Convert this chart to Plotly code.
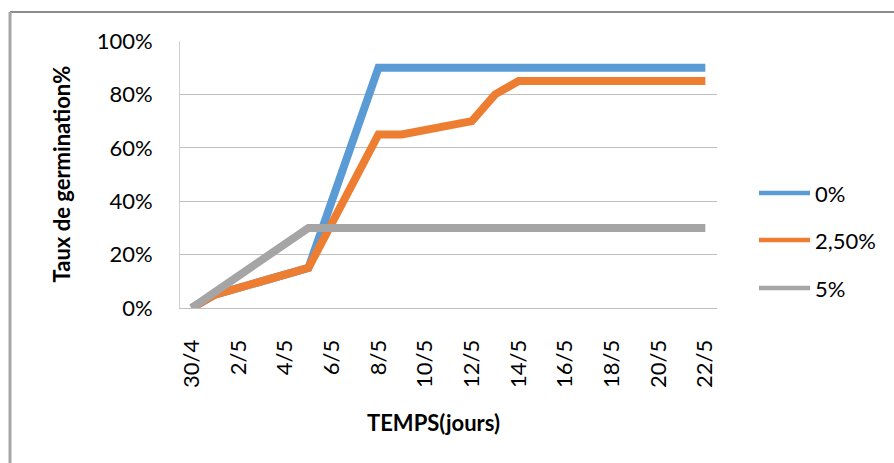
import plotly.graph_objects as go

# ---- data ----
series_names = ["0%", "2,50%", "5%"]
series_colors = ["#5B9BD5", "#ED7D31", "#A5A5A5"]

dates_0 = ["30/4", "1/5", "5/5", "8/5", "22/5"]
vals_0 = [0, 5, 15, 90, 90]

dates_25 = ["30/4", "1/5", "5/5", "8/5", "9/5", "12/5", "13/5", "14/5", "22/5"]
vals_25 = [0, 5, 15, 65, 65, 70, 80, 85, 85]

dates_5 = ["30/4", "5/5", "22/5"]
vals_5 = [0, 30, 30]

tick_labels = ["30/4", "2/5", "4/5", "6/5", "8/5", "10/5", "12/5",
               "14/5", "16/5", "18/5", "20/5", "22/5"]
y_ticks = [0, 20, 40, 60, 80, 100]


def day_offset(lbl):
    d, m = (int(v) for v in lbl.split("/"))
    return d - 30 if m == 4 else d


FONT = "Lato, Open Sans, sans-serif"
W, H = 894, 463
L, R, T, B = 180, 177, 41, 155
PW, PH = W - L - R, H - T - B


def px(x):
    return (x - L) / PW


def py(y):
    return (H - B - y) / PH


fig = go.Figure()
for name, color, ds, vs in [
    (series_names[0], series_colors[0], dates_0, vals_0),
    (series_names[1], series_colors[1], dates_25, vals_25),
    (series_names[2], series_colors[2], dates_5, vals_5),
]:
    fig.add_trace(go.Scatter(
        x=[day_offset(d) for d in ds], y=vs, mode="lines", name=name,
        line=dict(color=color, width=8), showlegend=False,
        hoverinfo="skip",
    ))

fig.update_layout(
    width=W, height=H,
    margin=dict(l=L, r=R, t=T, b=B, pad=0),
    paper_bgcolor="white", plot_bgcolor="white",
    font=dict(family=FONT, size=22, color="black"),
    xaxis=dict(
        range=[-0.5, 22.5],
        tickvals=[day_offset(t) for t in tick_labels],
        ticktext=tick_labels,
        tickangle=-90,
        showgrid=False, zeroline=False,
        showline=True, linecolor="#BFBFBF", linewidth=1,
        ticks="", ticklabelstandoff=22,
        tickfont=dict(size=22),
    ),
    yaxis=dict(
        range=[0, 100],
        tickvals=y_ticks,
        ticktext=[f"{v}%" for v in y_ticks],
        showgrid=True, gridcolor="#BFBFBF", gridwidth=1,
        zeroline=False,
        showline=True, linecolor="#D0D0D0", linewidth=1,
        ticks="", ticklabelstandoff=22,
        tickfont=dict(size=22),
    ),
)

# axis titles
fig.add_annotation(text="<b>TEMPS(jours)</b>", xref="paper", yref="paper",
                   x=px(433), y=py(422), xanchor="center", yanchor="middle",
                   showarrow=False, font=dict(size=22, family=FONT))
fig.add_annotation(text="<b>Taux de germination%</b>", xref="paper", yref="paper",
                   x=px(61), y=0.5, xanchor="center", yanchor="middle",
                   textangle=-90, showarrow=False, font=dict(size=22, family=FONT))

# legend (manual, Excel style)
leg_y = [193, 240, 288]
for name, color, yy in zip(series_names, series_colors, leg_y):
    fig.add_shape(type="line", xref="paper", yref="paper",
                  x0=px(759), x1=px(810), y0=py(yy), y1=py(yy),
                  line=dict(color=color, width=4.5))
    fig.add_annotation(text=name, xref="paper", yref="paper",
                       x=px(813), y=py(yy), xanchor="left", yanchor="middle",
                       showarrow=False, font=dict(size=22, family=FONT))

# chart-area border (top and left visible)
fig.add_shape(type="line", xref="paper", yref="paper",
              x0=px(10), x1=px(W + 5), y0=py(12), y1=py(12),
              line=dict(color="#8C8C8C", width=2))
fig.add_shape(type="line", xref="paper", yref="paper",
              x0=px(10), x1=px(10), y0=py(12), y1=py(H + 5),
              line=dict(color="#A6A6A6", width=3))

fig.write_html("out.html")
